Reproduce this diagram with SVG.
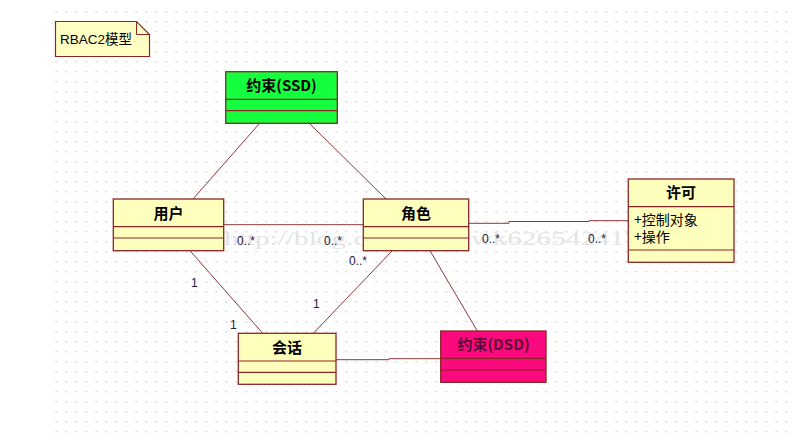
<svg xmlns="http://www.w3.org/2000/svg" width="806" height="442" viewBox="0 0 806 442">
<defs>
<pattern id="grid" x="55.5" y="11" width="10" height="10" patternUnits="userSpaceOnUse">
<rect x="0" y="0" width="1.5" height="1.5" fill="#cfcfcf"/>
</pattern>
</defs>
<style>
.box{stroke:#8b2525;stroke-width:1.3}
.yel{fill:#ffffbd}
.div{stroke:#8b2525;stroke-width:1.2;fill:none}
.title{font-family:"Noto Sans CJK SC","Liberation Sans",sans-serif;font-weight:bold;font-size:15px;text-anchor:middle;fill:#000}
.attr{font-family:"Noto Sans CJK SC","Liberation Sans",sans-serif;font-size:14px;fill:#000}
.mult{font-family:"Liberation Sans","Noto Sans",sans-serif;font-size:12px;fill:#1c2040}
.conn line,.conn polyline{stroke:#8b3838;stroke-width:1;fill:none}
</style>
<rect width="806" height="442" fill="#ffffff"/>
<rect x="55" y="10" width="733" height="424" fill="url(#grid)"/>
<text x="224" y="245" font-family="Liberation Serif,serif" font-size="19" fill="#e4e4e4" textLength="415" lengthAdjust="spacingAndGlyphs">http://blog.csdn.net/zwk626542417</text>

<g id="note">
<path d="M55.5,21.5 H136.5 L149.5,34.5 V56.5 H55.5 Z" fill="#ffffc4" stroke="#8b2525" stroke-width="1.2"/>
<path d="M136.5,21.5 V34.5 H149.5" fill="none" stroke="#8b2525" stroke-width="1"/>
<text x="60" y="44" font-family="'Liberation Sans','Noto Sans CJK SC',sans-serif" font-size="13.5" fill="#000">RBAC2模型</text>
</g>

<g class="conn" id="connectors">
<line x1="259" y1="124" x2="193" y2="199"/>
<line x1="310" y1="124" x2="386" y2="199"/>
<line x1="223.7" y1="224.7" x2="363.3" y2="224.7"/>
<polyline points="468.7,223.3 509,223.3 509,221.5 589,221.5 589,220.7 628.3,220.7"/>
<line x1="190" y1="250.7" x2="262.7" y2="333.3"/>
<line x1="392.3" y1="250.7" x2="313.3" y2="333.3"/>
<line x1="430" y1="250.7" x2="477.3" y2="331"/>
<polyline points="336,359.7 389,359.7 389,358.7 440.7,358.7"/>
</g>

<g id="ssd">
<rect class="box" x="225.7" y="71.7" width="111.6" height="51.6" fill="#14ff3e"/>
<line class="div" x1="225.7" y1="99.3" x2="337.3" y2="99.3"/>
<line class="div" x1="225.7" y1="110.7" x2="337.3" y2="110.7"/>
<text class="title" x="281.5" y="91">约束(SSD)</text>
</g>

<g id="user">
<rect class="box yel" x="113.3" y="199" width="110.4" height="51.7"/>
<line class="div" x1="113.3" y1="226.7" x2="223.7" y2="226.7"/>
<line class="div" x1="113.3" y1="238" x2="223.7" y2="238"/>
<text class="title" x="168.5" y="219">用户</text>
</g>

<g id="role">
<rect class="box yel" x="363.3" y="199" width="105.4" height="51.7"/>
<line class="div" x1="363.3" y1="226.7" x2="468.7" y2="226.7"/>
<line class="div" x1="363.3" y1="238" x2="468.7" y2="238"/>
<text class="title" x="416" y="219">角色</text>
</g>

<g id="permission">
<rect class="box yel" x="628.3" y="179" width="105.7" height="83.3"/>
<line class="div" x1="628.3" y1="206.7" x2="734" y2="206.7"/>
<line class="div" x1="628.3" y1="250" x2="734" y2="250"/>
<text class="title" x="681" y="198">许可</text>
<text class="attr" x="634" y="225">+控制对象</text>
<text class="attr" x="634" y="242">+操作</text>
</g>

<g id="session">
<rect class="box yel" x="238.3" y="333.3" width="97.7" height="51"/>
<line class="div" x1="238.3" y1="361" x2="336" y2="361"/>
<line class="div" x1="238.3" y1="372.3" x2="336" y2="372.3"/>
<text class="title" x="287" y="353">会话</text>
</g>

<g id="dsd">
<rect class="box" x="440.7" y="331" width="105.3" height="51.3" fill="#fb0a7e"/>
<line class="div" x1="440.7" y1="358.3" x2="546" y2="358.3"/>
<line class="div" x1="440.7" y1="370" x2="546" y2="370"/>
<text class="title" x="493.5" y="350" style="fill:#5e0a36">约束(DSD)</text>
</g>

<g id="labels">
<text class="mult" x="237" y="245">0..*</text>
<text class="mult" x="324" y="245">0..*</text>
<text class="mult" x="349" y="265">0..*</text>
<text class="mult" x="482" y="243">0..*</text>
<text class="mult" x="588" y="243">0..*</text>
<text class="mult" x="191" y="287">1</text>
<text class="mult" x="313" y="308">1</text>
<text class="mult" x="230" y="329">1</text>
</g>
</svg>
